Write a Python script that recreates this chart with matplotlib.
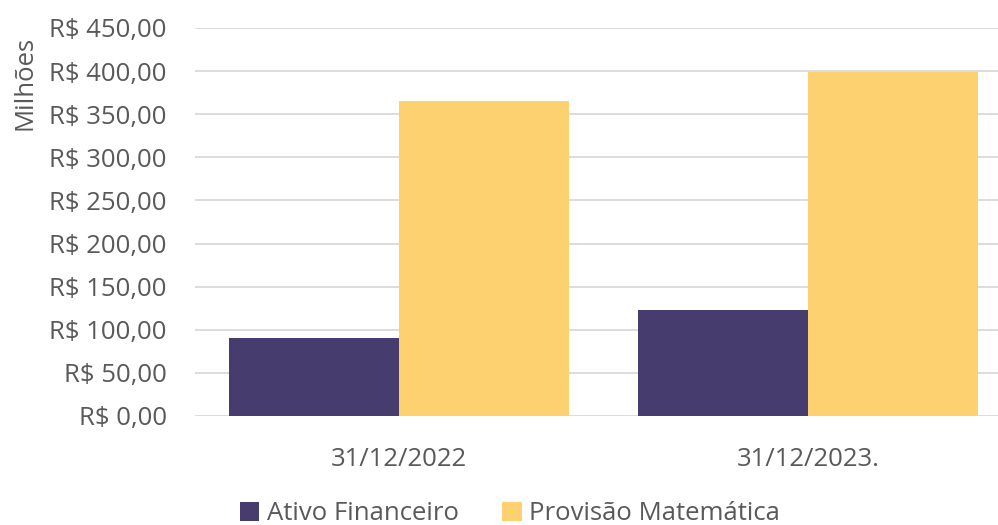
import matplotlib
matplotlib.use("Agg")
import matplotlib.pyplot as plt
import numpy as np

categories = ["31/12/2022", "31/12/2023."]
series_names = ["Ativo Financeiro", "Provisão Matemática"]
ativo = [91.0, 123.5]
provisao = [365.5, 399.5]
yticks = [0, 50, 100, 150, 200, 250, 300, 350, 400, 450]
ytick_labels = ["R$ 0,00", "R$ 50,00", "R$ 100,00", "R$ 150,00", "R$ 200,00",
                "R$ 250,00", "R$ 300,00", "R$ 350,00", "R$ 400,00", "R$ 450,00"]

colors = ["#463C6E", "#FED170"]
text_color = "#595959"
plt.rcParams['font.family'] = ['Open Sans', 'DejaVu Sans']

W, H = 998, 525
fig = plt.figure(figsize=(W / 100, H / 100), dpi=100)
ax = fig.add_axes([194.5 / W, (H - 416) / H, 818 / W, 388 / H])

x = np.arange(len(categories))
bw = 170 / 409
ax.bar(x - bw / 2, ativo, bw, color=colors[0], label=series_names[0], zorder=3)
ax.bar(x + bw / 2, provisao, bw, color=colors[1], label=series_names[1], zorder=3)

fs = 18.5
ax.set_xlim(-0.5, 1.5)
ax.set_ylim(0, 450)
ax.set_yticks(yticks)
ax.set_yticklabels(ytick_labels, fontsize=fs, color=text_color)
ax.set_xticks(x)
ax.set_xticklabels(categories, fontsize=fs, color=text_color)
ax.tick_params(axis='both', length=0)
ax.tick_params(axis='y', pad=20)
ax.tick_params(axis='x', pad=22)
ax.grid(axis='y', color='#D9D9D9', linewidth=1.3, zorder=0)
for s in ax.spines.values():
    s.set_visible(False)

fig.text(25 / W, 1 - 83 / H, "Milhões", rotation=90, ha='center', va='center',
         fontsize=fs, color=text_color)

leg = fig.legend(loc='center', bbox_to_anchor=(510 / W, 1 - 514 / H), ncol=2,
                 frameon=False, fontsize=fs, handlelength=0.75, handleheight=0.75,
                 handletextpad=0.3, columnspacing=1.7, borderaxespad=0)
for t in leg.get_texts():
    t.set_color(text_color)

fig.savefig("out.png", dpi=100)
